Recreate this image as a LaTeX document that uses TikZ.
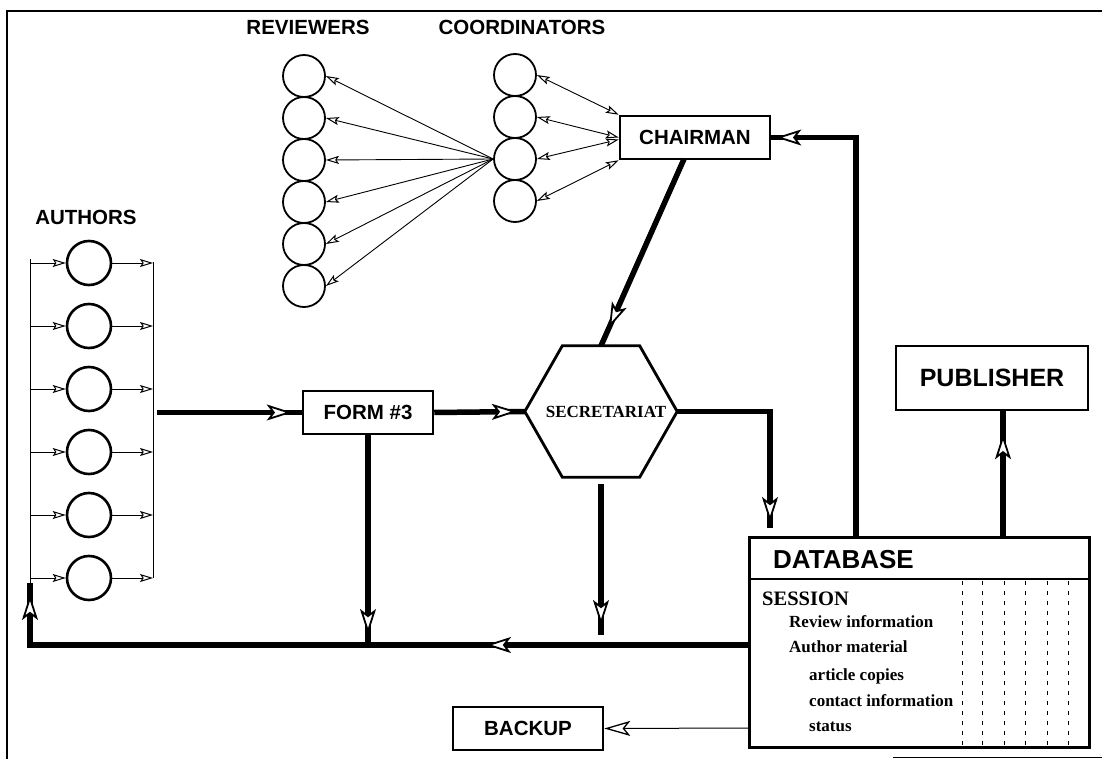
\documentclass[tikz,border=0pt]{standalone}
\usepackage{fontspec}
\setmainfont{Liberation Serif}
\setsansfont{Liberation Sans}
\usetikzlibrary{arrows.meta,decorations.markings}
\begin{document}
\begin{tikzpicture}[x=1pt,y=-1pt,
  smalltip/.tip={Stealth[length=13pt,width=8pt,inset=2.5pt,fill=white,line width=1pt]},
  bigtip/.tip={Stealth[length=25pt,width=16pt,inset=6pt,fill=white,line width=1.8pt]},
  lab/.style={font=\sffamily\bfseries\fontsize{20.5}{24}\selectfont},
  box/.style={draw,line width=2.5pt,rectangle,inner sep=0pt,lab},
  person/.style={draw,circle,minimum size=42pt,inner sep=0pt,line width=1.8pt},
  author/.style={draw,circle,minimum width=44pt,minimum height=44pt,inner sep=0pt,line width=2.6pt},
  fine/.style={line width=0.9pt},
  heavy/.style={line width=5.5pt},
  harrow/.style={heavy,postaction={decorate},decoration={markings,mark=at position -#1 with {\arrow{bigtip}}}},
  dbtext/.style={font=\rmfamily\bfseries\fontsize{17}{20}\selectfont,anchor=base west,inner sep=0pt},
]
\useasboundingbox (0,0) rectangle (1102,759);
% frame
\draw[line width=1.2pt] (7,759) -- (7,11) -- (1102,11);
\draw[line width=1pt] (893,757) -- (1102,757);

% labels
\node[lab] (revlab) at (308,27) {REVIEWERS};
\node[lab] (coolab) at (522,27) {COORDINATORS};
\node[lab] (autlab) at (86,217) {AUTHORS};

% reviewers and coordinators
\foreach \i in {1,...,6} \node[person] (r\i) at (304,{76+42*(\i-1)}) {};
\foreach \i in {1,...,4} \node[person] (c\i) at (515,{75+42*(\i-1)}) {};

% chairman
\node[box,minimum width=150pt,minimum height=43pt] (chair) at (695,137.5) {CHAIRMAN};

\foreach \i in {1,...,6} \draw[fine,-{smalltip}] (c3.west) -- (r\i.east);
\draw[fine,{smalltip}-{smalltip}] (c1.east) -- (chair.north west);
\draw[fine,{smalltip}-{smalltip}] (c2.east) -- (chair.west);
\draw[fine,{smalltip}-{smalltip}] (c3.east) -- ([yshift=-2pt]chair.west);
\draw[fine,{smalltip}-{smalltip}] (c4.east) -- (chair.south west);

% authors
\foreach \i in {1,...,6} {
  \pgfmathsetmacro\yy{263+63*(\i-1)}
  \node[author] (a\i) at (89,\yy) {};
  \coordinate (al\i) at (30,\yy);
  \coordinate (ar\i) at (153,\yy);
  \draw[fine,-{smalltip}] (al\i) -- (a\i.west);
  \draw[fine,-{smalltip}] (a\i.east) -- (ar\i);
}
\coordinate (retTop) at (30,583);
\draw[fine] ([yshift=4pt]al1) -- (retTop);
\draw[fine] ([yshift=1pt]ar1) -- (ar6);

% form, secretariat, publisher, backup, database
\node[box,minimum width=130pt,minimum height=43pt] (form) at (368,412.5) {FORM \#3};
\node[minimum width=152pt,minimum height=131pt,inner sep=0pt,
      font=\rmfamily\bfseries\fontsize{17}{20}\selectfont] (sec) at (601,411.5) {\hspace*{10pt}SECRETARIAT};
\draw[line width=2.8pt,line join=miter] (sec.west) -- ([xshift=37.5pt]sec.north west) -- ([xshift=-37.5pt]sec.north east)
   -- (sec.east) -- ([xshift=-37.5pt]sec.south east) -- ([xshift=37.5pt]sec.south west) -- cycle;
\node[box,minimum width=192pt,minimum height=64pt,font=\sffamily\bfseries\fontsize{25}{30}\selectfont] (pub) at (992,378) {PUBLISHER};
\node[box,minimum width=150pt,minimum height=43pt] (backup) at (528,728.5) {BACKUP};
\node[draw,line width=3pt,minimum width=340pt,minimum height=210pt,inner sep=0pt] (db) at (919,642) {};
\draw[line width=2pt] (db.west |- 0,579) -- (db.east |- 0,579);
\node[font=\sffamily\bfseries\fontsize{26}{30}\selectfont,anchor=base west,inner sep=0pt] (dbtitle) at (773,568) {DATABASE};
\node[dbtext,font=\rmfamily\bfseries\fontsize{20.5}{24}\selectfont] (t1) at (762,605) {SESSION};
\node[dbtext] (t2) at (789,627) {Review information};
\node[dbtext] (t3) at (789,652) {Author material};
\node[dbtext] (t4) at (809,680) {article copies};
\node[dbtext] (t5) at (809,706) {contact information};
\node[dbtext] (t6) at (809,731) {status};
\foreach \x in {962,982,1004,1025,1047,1068}
  \draw[line width=0.9pt,dash pattern=on 4pt off 6pt] (\x,581) -- (\x,746);

% connectors
\coordinate (aout) at (157,412.5);
\draw[harrow=10pt] (aout) -- (form.west);
\draw[harrow=8pt] (form.east) -- (sec.west);
\coordinate (dbin) at (770,528);
\draw[harrow=6pt] (sec.east) -| (dbin);
\coordinate (busR) at (749,645);
\coordinate (busL) at (30,645);
\draw[harrow=11pt] (form.south) -- (form.south |- busR);
\coordinate (s1) at ([yshift=-7pt]sec.south);
\coordinate (s2) at (601,635);
\draw[harrow=10pt] (s1) -- (s2);
\draw[heavy,postaction={decorate},decoration={markings,
   mark=at position 263pt with {\arrow{bigtip}},
   mark=at position -12pt with {\arrow{bigtip}}}] (busR) -- (busL) -- (retTop);
\coordinate (dbt1) at (856,537);
\draw[harrow=5pt] (dbt1) |- (chair.east);
\coordinate (dbt2) at (1003,537);
\draw[harrow=23pt] (dbt2) -- (dbt2 |- pub.south);
\coordinate (chs) at (684,159);
\draw[harrow=20pt] (chs) -- (sec.north);
\coordinate (dbb) at (749,728);
\draw[line width=1pt,-{Stealth[length=26pt,width=15pt,inset=6pt,fill=white,line width=1.3pt]}] (dbb) -- (backup.east);
\end{tikzpicture}
\end{document}
